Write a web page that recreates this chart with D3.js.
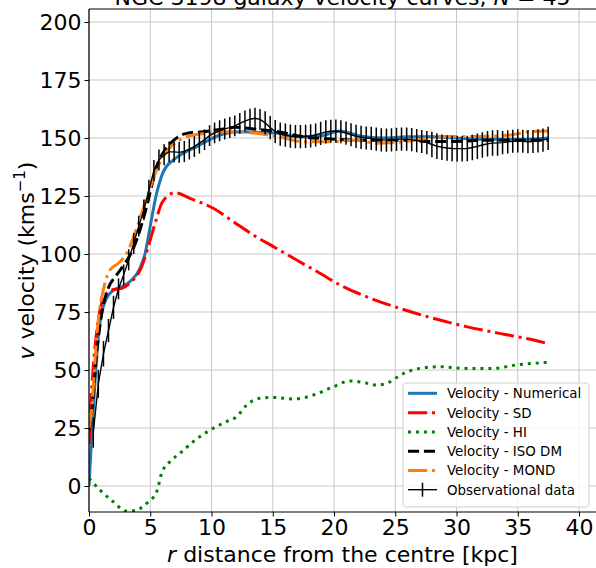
<!DOCTYPE html>
<html>
<head>
<meta charset="utf-8">
<script src="https://cdn.jsdelivr.net/npm/d3@7"></script>
<style>
  html, body { margin: 0; padding: 0; background: #fff; overflow: hidden; }
  svg { display: block; font-family: "DejaVu Sans", sans-serif; }
</style>
</head>
<body>
<svg id="chart" width="596" height="568"></svg>
<script>
// ---------------- data ----------------
const titleText = "NGC 3198 galaxy velocity curves, ";
const xTicks = [0, 5, 10, 15, 20, 25, 30, 35, 40];
const yTicks = [0, 25, 50, 75, 100, 125, 150, 175, 200];

// Velocity - Numerical
const rNum = [0, 0.2, 0.5, 0.76, 1.17, 1.85, 2.67, 3.48, 4.16, 4.57, 5.0, 5.47, 6.07, 6.88, 7.7, 8.8, 9.88, 10.96, 12.3, 13.95, 15.45, 17, 19, 20.5, 22, 24, 26, 28, 30, 32, 34, 36, 37.5];
const vNum = [0, 19.8, 45.7, 64.4, 77.3, 83.8, 85.9, 88.8, 93.8, 100, 112, 125, 135.5, 140.5, 143.4, 146.3, 149.4, 151.7, 152.7, 152.4, 152, 150.5, 151, 153, 151, 150, 150.5, 150.5, 150, 149.5, 149.5, 149.5, 150];

// Velocity - SD
const rSD = [0, 0.08, 0.35, 0.76, 1.31, 1.85, 2.67, 3.48, 4.3, 4.84, 5.39, 5.93, 6.34, 7.02, 8.24, 10.15, 11.8, 13.4, 15.05, 16.95, 18.85, 20.5, 22.7, 25.4, 28.1, 30.8, 33.5, 36.3, 37.5];
const vSD = [18, 28, 51.4, 71.6, 82.3, 84.5, 85.2, 88.1, 94.5, 103.2, 113.2, 121.8, 124.7, 126.4, 124, 119.7, 113.9, 108.2, 103.2, 97.4, 91.7, 86.6, 81.5, 76.5, 72.3, 68.7, 65.8, 62.9, 61.3];

// Velocity - HI
const rHI = [0, 0.9, 1.98, 3.07, 3.75, 4.7, 5.52, 5.93, 6.6, 7.43, 8.5, 9.88, 11.2, 12.06, 12.87, 13.95, 15.05, 16.7, 18.3, 19.95, 21.3, 22.5, 23.5, 24.6, 25.4, 27, 28.65, 30.8, 33, 34.9, 37.4];
const vHI = [3.3, -1.7, -6.8, -10.8, -10.6, -7.5, -2.5, 5.5, 10.5, 14.1, 19.1, 24.1, 27.7, 29.9, 34.9, 37.8, 38.2, 37.5, 39.2, 42.8, 45.3, 44.5, 43.5, 45, 47.8, 50.7, 51.4, 50.7, 50.7, 52.2, 53.3];

// Velocity - ISO DM
const rISO = [0, 0.2, 0.62, 1.04, 1.58, 2.26, 2.94, 3.62, 4.16, 4.7, 5.1, 5.52, 6.2, 7.0, 7.98, 9.33, 10.7, 12.06, 13.7, 15.45, 17.5, 20, 23, 26, 28, 30, 32, 34, 36, 37.5];
const vISO = [24, 31, 57, 74.5, 85.3, 91, 96, 102.4, 110.3, 120.4, 129, 137.6, 144.8, 149.4, 152, 152.7, 153.7, 154.6, 153.7, 152.7, 150.5, 149.5, 149, 149, 148.5, 148.5, 149, 149, 149, 149];

// Velocity - MOND
const rMOND = [0, 0.2, 0.49, 0.76, 1.17, 1.71, 2.4, 3.08, 3.75, 4.3, 4.84, 5.52, 6.34, 7.16, 8.24, 9.6, 11.2, 13.1, 15.45, 17.5, 19.4, 21.8, 23.5, 25.7, 28.9, 31.6, 34.4, 36, 37.5];
const vMOND = [25, 32, 54.3, 71.6, 84.5, 93.1, 96, 100.3, 108.9, 117.5, 126.2, 136.2, 144.1, 148.4, 150.9, 152, 152.7, 152.3, 150.6, 148.4, 148.4, 149, 147.7, 148.4, 150.6, 150.6, 151.3, 152.7, 153];

// Observational data
const rObs = [0.35, 0.76, 1.18, 1.59, 2.00, 2.41, 2.83, 3.24, 3.65, 4.06, 4.48, 4.89, 5.30, 5.71, 6.13, 6.54, 6.95, 7.36, 7.78, 8.19,
  8.60, 9.01, 9.43, 9.84, 10.25, 10.66, 11.08, 11.49, 11.90, 12.31, 12.73, 13.14, 13.55, 13.96, 14.38, 14.79, 15.20, 15.61, 16.03, 16.44,
  16.85, 17.26, 17.68, 18.09, 18.50, 18.91, 19.33, 19.74, 20.15, 20.56, 20.98, 21.39, 21.80, 22.21, 22.63, 23.04, 23.45, 23.86, 24.28, 24.69,
  25.10, 25.51, 25.93, 26.34, 26.75, 27.16, 27.58, 27.99, 28.40, 28.81, 29.23, 29.64, 30.05, 30.46, 30.88, 31.29, 31.70, 32.11, 32.53, 32.94,
  33.35, 33.76, 34.18, 34.59, 35.00, 35.41, 35.83, 36.24, 36.65, 37.06, 37.48];
const vObs = [23, 44, 57, 67, 77, 85, 91, 97.5, 104.5, 112, 119, 127.5, 136, 140.5, 142.8, 144, 144, 143.8, 144.2, 145.2,
  146.3, 147.8, 149.3, 151, 152.2, 153.1, 153.9, 154.5, 155.2, 156.3, 157.3, 158.1, 158.5, 158, 156.5, 154.5, 152.8, 151.7, 151.2, 150.8,
  150.6, 150.6, 150.7, 150.9, 151.3, 152, 152.6, 152.9, 153, 152.7, 152.1, 151.4, 150.7, 150.3, 150, 149.8, 149.5, 149.2, 149.1, 149.2,
  149.4, 149.5, 149.5, 149.3, 148.9, 148.5, 148, 147.2, 146.5, 146, 145.7, 145.5, 145.4, 145.4, 145.5, 145.9, 146.4, 147, 147.5, 147.8,
  147.9, 148, 148.3, 148.6, 148.8, 148.6, 148.4, 148.5, 148.8, 149.1, 149.8];
const eObs = [6.5, 6, 5.5, 5, 5, 4.5, 4.5, 4.5, 4.5, 4.5, 4.5, 4.5, 4.5, 4.5, 4.5, 4.5, 4.5, 4.5, 4.5, 4.5,
  4.5, 4.5, 4.5, 4.5, 4.5, 4.5, 4.5, 4.5, 4.5, 4.5, 4.5, 4.5, 4.5, 4.5, 5, 5, 5, 5, 5, 5,
  5, 5, 5, 5, 5, 5, 5, 5, 5, 5, 5, 5, 5, 5, 5, 5, 5, 5, 5, 5,
  5, 5, 5, 5, 5, 5, 5, 5.5, 5.5, 5.5, 5.5, 5.5, 5.5, 5.5, 5.5, 5.5, 5.5, 5.5, 5.5, 5.5,
  5.5, 5, 5, 5, 5, 5, 5, 5, 5, 5, 5];

const legendLabels = ["Velocity - Numerical", "Velocity - SD", "Velocity - HI", "Velocity - ISO DM", "Velocity - MOND", "Observational data"];

// ---------------- drawing ----------------
const svg = d3.select("#chart");
const L = 89, T = 9, B = 512, R = 597.4;
const x = d3.scaleLinear().domain([0, 41.5]).range([L, R]);
const y = d3.scaleLinear().domain([-11.2, 205.6]).range([B, T]);

svg.append("defs").append("clipPath").attr("id", "clip")
  .append("rect").attr("x", L).attr("y", T).attr("width", R - L).attr("height", B - T);

// grid
const grid = svg.append("g");
grid.selectAll(".gx").data(xTicks).join("line")
  .attr("x1", d => x(d)).attr("x2", d => x(d)).attr("y1", T).attr("y2", B)
  .attr("stroke", "#c8c8c8").attr("stroke-width", 1);
grid.selectAll(".gy").data(yTicks).join("line")
  .attr("x1", L).attr("x2", R).attr("y1", d => y(d)).attr("y2", d => y(d))
  .attr("stroke", "#c8c8c8").attr("stroke-width", 1);

const plot = svg.append("g").attr("clip-path", "url(#clip)");

function series(rs, vs) { return rs.map((r, i) => [r, vs[i]]); }
const lineGen = d3.line().x(d => x(d[0])).y(d => y(d[1])).curve(d3.curveMonotoneX);

const lw = 3;
const styles = [
  { data: series(rNum, vNum), color: "#1f77b4", dash: null },
  { data: series(rSD, vSD), color: "#ff0000", dash: [6.4 * lw, 1.6 * lw, 1 * lw, 1.6 * lw] },
  { data: series(rHI, vHI), color: "#008000", dash: [1 * lw, 1.65 * lw] },
  { data: series(rISO, vISO), color: "#000000", dash: [3.7 * lw, 1.6 * lw] },
  { data: series(rMOND, vMOND), color: "#ff7f0e", dash: [6.4 * lw, 1.6 * lw, 1 * lw, 1.6 * lw] }
];
styles.forEach(s => {
  plot.append("path").datum(s.data).attr("d", lineGen)
    .attr("fill", "none").attr("stroke", s.color).attr("stroke-width", lw)
    .attr("stroke-dasharray", s.dash ? s.dash.join(",") : null);
});

// observational data
const obs = series(rObs, vObs);
plot.append("path").datum(obs).attr("d", d3.line().x(d => x(d[0])).y(d => y(d[1])))
  .attr("fill", "none").attr("stroke", "#000").attr("stroke-width", 1.4);
plot.selectAll(".eb").data(rObs).join("line")
  .attr("x1", d => x(d)).attr("x2", d => x(d))
  .attr("y1", (d, i) => y(vObs[i] - eObs[i])).attr("y2", (d, i) => y(vObs[i] + eObs[i]))
  .attr("stroke", "#000").attr("stroke-width", 1.5);

// axes
const xAxis = d3.axisBottom(x).tickValues(xTicks).tickSize(4.5).tickPadding(3);
const yAxis = d3.axisLeft(y).tickValues(yTicks).tickSize(4.5).tickPadding(3);
const gx = svg.append("g").attr("transform", `translate(0,${B})`).call(xAxis);
const gy = svg.append("g").attr("transform", `translate(${L},0)`).call(yAxis);
[gx, gy].forEach(g => {
  g.select(".domain").remove();
  g.selectAll("line").attr("stroke", "#000").attr("stroke-width", 1);
  g.selectAll("text").attr("font-size", 22).attr("fill", "#000").attr("font-family", "DejaVu Sans");
});
// spines
svg.append("line").attr("x1", L).attr("x2", L).attr("y1", T).attr("y2", B).attr("stroke", "#000").attr("stroke-width", 1.2);
svg.append("line").attr("x1", L).attr("x2", R).attr("y1", B).attr("y2", B).attr("stroke", "#000").attr("stroke-width", 1.2);
svg.append("line").attr("x1", L).attr("x2", R).attr("y1", T).attr("y2", T).attr("stroke", "#000").attr("stroke-width", 1.2);

// title (cropped at top)
const title = svg.append("text").attr("x", (L + 596) / 2).attr("y", 4.5)
  .attr("text-anchor", "middle").attr("font-size", 22).attr("fill", "#000");
title.append("tspan").text(titleText);
title.append("tspan").attr("font-style", "italic").text("N");
title.append("tspan").text(" = 45");

// x label
const xl = svg.append("text").attr("x", (L + 596) / 2).attr("y", 562)
  .attr("text-anchor", "middle").attr("font-size", 22).attr("fill", "#000");
xl.append("tspan").attr("font-style", "italic").text("r");
xl.append("tspan").text(" distance from the centre [kpc]");

// y label
const yl = svg.append("text").attr("transform", `translate(34,${(T + B) / 2}) rotate(-90)`)
  .attr("text-anchor", "middle").attr("font-size", 22).attr("fill", "#000");
yl.append("tspan").attr("font-style", "italic").text("v");
yl.append("tspan").text(" velocity (kms");
yl.append("tspan").attr("font-size", 15).attr("dy", -9).text("−1");
yl.append("tspan").attr("dy", 9).text(")");

// legend
const lg = svg.append("g");
lg.append("rect").attr("x", 403).attr("y", 383).attr("width", 186).attr("height", 124)
  .attr("rx", 3).attr("fill", "#fff").attr("fill-opacity", 0.8).attr("stroke", "#d0d0d0").attr("stroke-width", 1);
const rowY = [393.3, 412.7, 432, 451.3, 470.5, 489.7];
styles.forEach((s, i) => {
  lg.append("line").attr("x1", 408).attr("x2", 437).attr("y1", rowY[i]).attr("y2", rowY[i])
    .attr("stroke", s.color).attr("stroke-width", lw)
    .attr("stroke-dasharray", s.dash ? s.dash.join(",") : null);
});
lg.append("line").attr("x1", 408).attr("x2", 437).attr("y1", rowY[5]).attr("y2", rowY[5]).attr("stroke", "#000").attr("stroke-width", 1.4);
lg.append("line").attr("x1", 422.5).attr("x2", 422.5).attr("y1", rowY[5] - 7).attr("y2", rowY[5] + 7).attr("stroke", "#000").attr("stroke-width", 1.5);
legendLabels.forEach((t, i) => {
  lg.append("text").attr("x", 447).attr("y", rowY[i]).attr("dy", "0.36em")
    .attr("font-size", 13.4).attr("fill", "#000").text(t);
});
</script>
</body>
</html>
